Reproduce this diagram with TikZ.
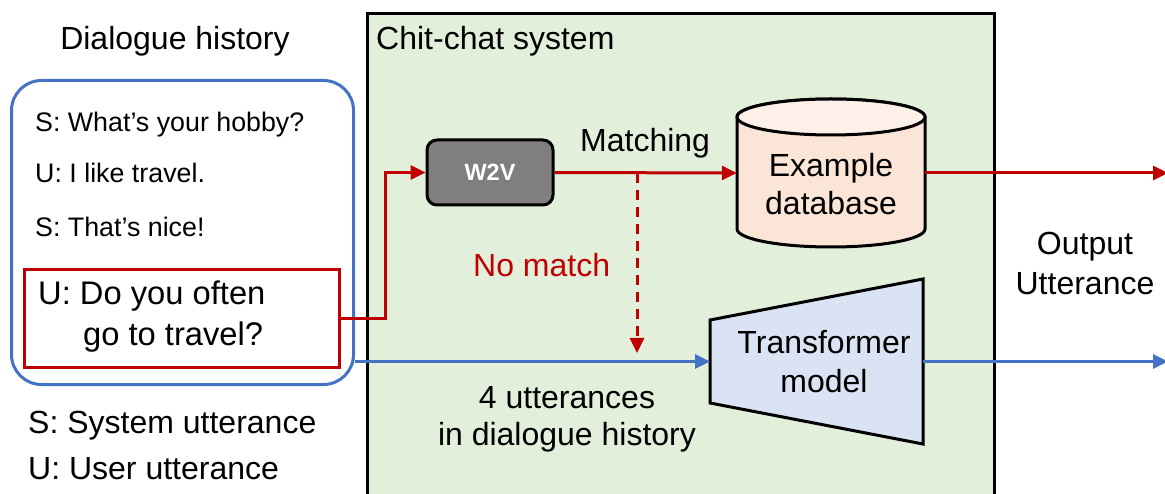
\documentclass[tikz,border=0pt]{standalone}
\usepackage{fontspec}
\setmainfont{Liberation Sans}
\usetikzlibrary{arrows.meta}
\definecolor{sysgreen}{HTML}{E2EFDA}
\definecolor{histblue}{HTML}{4472C4}
\definecolor{histred}{HTML}{C00000}
\definecolor{wgray}{HTML}{7F7F7F}
\definecolor{dbbody}{HTML}{FBE5D6}
\definecolor{dbtop}{HTML}{FDF0E8}
\definecolor{tfblue}{HTML}{DAE3F3}
\begin{document}
\begin{tikzpicture}[x=1pt,y=-1pt,
  big/.style={font=\fontsize{32}{38}\selectfont, inner sep=0pt},
  query text/.style={font=\fontsize{32.7}{38}\selectfont, inner sep=0pt},
  small/.style={font=\fontsize{26.8}{32}\selectfont, inner sep=0pt},
  redline/.style={draw=histred, line width=3pt},
  blueline/.style={draw=histblue, line width=3pt},
  tip/.style={-{Triangle[length=15pt,width=14pt]}},
  outline/.style={draw=black, line width=3pt}]
\useasboundingbox (0,0) rectangle (1165,494);
\clip (0,0) rectangle (1165,494);

% system frame
\node[outline, fill=sysgreen, anchor=north west, minimum width=627pt,
      minimum height=520pt] (sys) at (366,12) {};
\node[big, anchor=base west] (systitle) at (376,50) {Chit-chat system};

% dialogue history panel
\node[big, anchor=base] (histtitle) at (175,50) {Dialogue history};
\node[draw=histblue, line width=3pt, rounded corners=30pt, anchor=north west,
      minimum width=342pt, minimum height=304pt] (hist) at (10,79) {};
\node[small, anchor=base west] (u1) at (35,132) {S: What’s your hobby?};
\node[small, anchor=base west] (u2) at (35,183) {U: I like travel.};
\node[small, anchor=base west] (u3) at (35,237) {S: That’s nice!};
\node[draw=histred, line width=3pt, anchor=north west,
      minimum width=315pt, minimum height=98pt] (query) at (23,268) {};
\node[query text, anchor=base west] (q1) at (38,305) {U: Do you often};
\node[query text, anchor=base west] (q2) at (83,345) {go to travel?};

% legend
\node[big, anchor=base west] (legS) at (28,433) {S: System utterance};
\node[big, anchor=base west] (legU) at (28,479) {U: User utterance};

% W2V block
\node[outline, fill=wgray, rounded corners=10pt, minimum width=126pt,
      minimum height=65pt, text=white,
      font=\fontsize{23.5}{28}\selectfont\bfseries] (w2v) at (490,172.5) {W2V};

% example database (cylinder)
\node[minimum width=188pt, minimum height=112pt, inner sep=0pt] (db) at (831,173) {};
\draw[outline, fill=dbbody] (737,117) -- (737,229)
  arc[start angle=180, end angle=360, x radius=94pt, y radius=18pt]
  -- (925,117)
  arc[start angle=0, end angle=180, x radius=94pt, y radius=18pt] -- cycle;
\draw[outline, fill=dbtop] (831,117) ellipse [x radius=94pt, y radius=18pt];
\node[big, anchor=base] (db1) at (831,177) {Example};
\node[big, anchor=base] (db2) at (831,215) {database};

% transformer model (trapezoid)
\draw[outline, fill=tfblue] (710,320) -- (923,279) -- (923,444) -- (710,403) -- cycle;
\coordinate (tfin) at (710,361.5);
\coordinate (tfout) at (923,361.5);
\node[big, anchor=base] (tf1) at (824,353) {Transformer};
\node[big, anchor=base] (tf2) at (824,392) {model};

% labels
\node[big, anchor=base west] (matching) at (580,152) {Matching};
\node[big, anchor=base west, text=histred] (nomatch) at (473,277) {No match};
\node[big, anchor=base] (ctx1) at (567,408) {4 utterances};
\node[big, anchor=base] (ctx2) at (567,445) {in dialogue history};
\node[big, anchor=base] (out1) at (1085,255) {Output};
\node[big, anchor=base] (out2) at (1085,295) {Utterance};

% connectors
\coordinate (split) at (637,173);
\coordinate (mergetop) at (637,353);
\coordinate (outred) at (1168,173);
\coordinate (outblue) at (1168,361.5);
\draw[redline, tip] (query.east) -- ++(44,0) |- (w2v.west);
\draw[redline, tip] (w2v.east) -- (db.west);
\draw[redline, tip] (db.east) -- (outred);
\draw[redline, tip, dash pattern=on 10pt off 7pt] (split) -- (mergetop);
\draw[blueline, tip] (hist.east |- tfin) -- (tfin);
\draw[blueline, tip] (tfout) -- (outblue);
\end{tikzpicture}
\end{document}
